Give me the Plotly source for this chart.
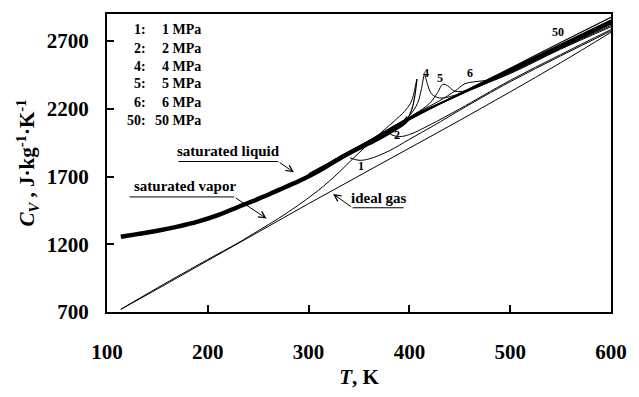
import plotly.graph_objects as go

# ---------------- data ----------------
T_sat_liq = [113.7, 130, 150, 170, 190, 210, 230, 250, 270, 290, 310, 330, 350, 370, 385, 395, 399, 403, 405.5, 407.5]
Cv_sat_liq = [1255, 1275, 1300, 1330, 1367, 1415, 1475, 1535, 1600, 1665, 1740, 1830, 1910, 1985, 2050, 2100, 2135, 2210, 2300, 2420]

T_sat_vap = [113.7, 150, 200, 230, 250, 270, 290, 310, 330, 345, 360, 375, 385, 395, 401, 404, 406, 407.5]
Cv_sat_vap = [720, 878, 1088, 1210, 1300, 1390, 1490, 1600, 1730, 1840, 1945, 2045, 2110, 2180, 2240, 2300, 2370, 2420]

T_ideal = [113.7, 150, 200, 250, 300, 350, 400, 450, 500, 550, 600]
Cv_ideal = [720, 870, 1080, 1290, 1500, 1705, 1910, 2115, 2325, 2540, 2765]

T_p1 = [341, 350, 360, 380, 400, 425, 450, 500, 550, 600]
Cv_p1 = [1838, 1820, 1830, 1890, 1975, 2080, 2190, 2400, 2590, 2775]

T_p2 = [377, 382, 390, 400, 420, 450, 500, 550, 600]
Cv_p2 = [2045, 2010, 1995, 2010, 2080, 2200, 2410, 2600, 2785]

T_p4 = [330, 360, 385, 400, 408, 412, 415, 418, 422, 430, 445, 470, 500, 550, 600]
Cv_p4 = [1835, 1955, 2065, 2150, 2240, 2350, 2450, 2380, 2310, 2280, 2300, 2370, 2460, 2640, 2805]

T_p5 = [330, 360, 385, 405, 420, 428, 433, 438, 445, 460, 480, 500, 550, 600]
Cv_p5 = [1840, 1960, 2070, 2160, 2240, 2320, 2380, 2370, 2330, 2340, 2400, 2465, 2645, 2815]

T_p6 = [330, 360, 385, 410, 430, 445, 455, 465, 480, 500, 550, 600]
Cv_p6 = [1845, 1965, 2075, 2180, 2260, 2330, 2385, 2400, 2415, 2470, 2650, 2825]

T_p10 = [350, 400, 450, 500, 550, 600]
Cv_p10 = [1915, 2135, 2305, 2475, 2650, 2830]
T_p20 = [340, 400, 450, 500, 550, 600]
Cv_p20 = [1875, 2130, 2308, 2482, 2660, 2840]
T_p30 = [320, 400, 450, 500, 550, 600]
Cv_p30 = [1795, 2126, 2310, 2488, 2668, 2848]
T_p40 = [310, 400, 450, 500, 550, 600]
Cv_p40 = [1755, 2123, 2311, 2493, 2675, 2855]

T_p50 = [300, 350, 400, 450, 500, 550, 600]
Cv_p50 = [1720, 1920, 2120, 2313, 2500, 2690, 2875]

legend_keys = ["1:", "2:", "4:", "5:", "6:", "50:"]
legend_vals = ["1 MPa", "2 MPa", "4 MPa", "5 MPa", "6 MPa", "50 MPa"]

x_ticks = [100, 200, 300, 400, 500, 600]
y_ticks = [700, 1200, 1700, 2200, 2700]

# ---------------- geometry helpers (pixel -> data) ----------------
L, R, T, B = 107, 17, 12, 82
W, H = 639, 397
X0, X1 = 100, 600
Y0, Y1 = 700, 2900
pw, ph = W - L - R, H - T - B


def dx(px):
    return X0 + (px - L) / pw * (X1 - X0)


def dy(py):
    return Y0 + (H - B - py) / ph * (Y1 - Y0)


FONT = "Liberation Serif"

fig = go.Figure()

# saturated liquid: thick up to near the critical region, thin spike after
n_thick = sum(1 for t in T_sat_liq if t <= 399)
fig.add_trace(go.Scatter(x=T_sat_liq[:n_thick], y=Cv_sat_liq[:n_thick], mode="lines",
                         line=dict(color="black", width=4.5), line_shape="spline"))
fig.add_trace(go.Scatter(x=T_sat_liq[n_thick - 1:], y=Cv_sat_liq[n_thick - 1:], mode="lines",
                         line=dict(color="black", width=1.2), line_shape="spline"))

thin = [(T_sat_vap, Cv_sat_vap, 1), (T_ideal, Cv_ideal, 1), (T_p1, Cv_p1, 1), (T_p2, Cv_p2, 1),
        (T_p4, Cv_p4, 1), (T_p5, Cv_p5, 1), (T_p6, Cv_p6, 1), (T_p10, Cv_p10, 1.6),
        (T_p20, Cv_p20, 1.6), (T_p30, Cv_p30, 1.6), (T_p40, Cv_p40, 1.6), (T_p50, Cv_p50, 1.2)]
for tx, cy, w in thin:
    fig.add_trace(go.Scatter(x=tx, y=cy, mode="lines",
                             line=dict(color="black", width=w), line_shape="spline"))

ann = []
# legend text block
rows = [28, 47, 65, 83, 102, 120]
for k, v, py in zip(legend_keys, legend_vals, rows):
    ann.append(dict(x=dx(149), y=dy(py), text="<b>%s</b>" % k, showarrow=False,
                    xanchor="right", yanchor="middle", font=dict(family=FONT, size=14, color="black")))
    ann.append(dict(x=dx(205), y=dy(py), text="<b>%s</b>" % v, showarrow=False,
                    xanchor="right", yanchor="middle", font=dict(family=FONT, size=14, color="black")))

# curve labels
for txt, px, py in [("1", 367, 167), ("2", 403, 135), ("4", 433, 72), ("5", 447, 77),
                    ("6", 478, 72), ("50", 568, 30)]:
    ann.append(dict(x=dx(px), y=dy(py), text="<b>%s</b>" % txt, showarrow=False,
                    font=dict(family=FONT, size=12, color="black")))

# text labels with underline + arrow
labels = [("saturated liquid", 231, 151, 180, 282, 162, 298, 173),
          ("saturated vapor", 187, 187, 130, 237, 198, 270, 220),
          ("ideal gas", 385, 199, 358, 410, 209, 338, 195)]
shapes = []
for txt, cx, cy, ux0, ux1, uy, hx, hy in labels:
    ann.append(dict(x=dx(cx), y=dy(cy), text="<b>%s</b>" % txt, showarrow=False,
                    font=dict(family=FONT, size=15, color="black")))
    shapes.append(dict(type="line", xref="x", yref="y", x0=dx(ux0), x1=dx(ux1), y0=dy(uy), y1=dy(uy),
                       line=dict(color="black", width=1)))
    tail_x = ux1 if hx > ux1 else ux0
    ann.append(dict(x=dx(hx), y=dy(hy), ax=dx(tail_x), ay=dy(uy), axref="x", ayref="y",
                    xref="x", yref="y", text="", showarrow=True, arrowhead=5,
                    arrowsize=1.3, arrowwidth=1, arrowcolor="black"))

fig.update_layout(
    width=W, height=H,
    margin=dict(l=L, r=R, t=T, b=B),
    paper_bgcolor="white", plot_bgcolor="white",
    showlegend=False,
    annotations=ann, shapes=shapes,
    font=dict(family=FONT, color="black"),
)
fig.update_xaxes(range=[X0, X1], tickvals=x_ticks, ticktext=["<b>%d</b>" % v for v in x_ticks],
                 ticks="inside", ticklen=7, tickwidth=2, tickcolor="black",
                 showline=True, linecolor="black", linewidth=2, mirror=True,
                 showgrid=False, zeroline=False,
                 tickfont=dict(family=FONT, size=21, color="black"), ticklabelstandoff=20,
                 title=dict(text="<b><i>T</i>, K</b>", font=dict(family=FONT, size=21, color="black"),
                            standoff=6))
fig.update_yaxes(range=[Y0, Y1], tickvals=y_ticks, ticktext=["<b>%d</b>" % v for v in y_ticks],
                 ticks="inside", ticklen=7, tickwidth=2, tickcolor="black",
                 showline=True, linecolor="black", linewidth=2, mirror=True,
                 showgrid=False, zeroline=False,
                 tickfont=dict(family=FONT, size=21, color="black"), ticklabelstandoff=12,
                 title=dict(text="<b><i>C<sub>V</sub></i> , J·kg<sup>-1</sup>·K<sup>-1</sup></b>",
                            font=dict(family=FONT, size=21, color="black"), standoff=6))

fig.write_html("out.html")
